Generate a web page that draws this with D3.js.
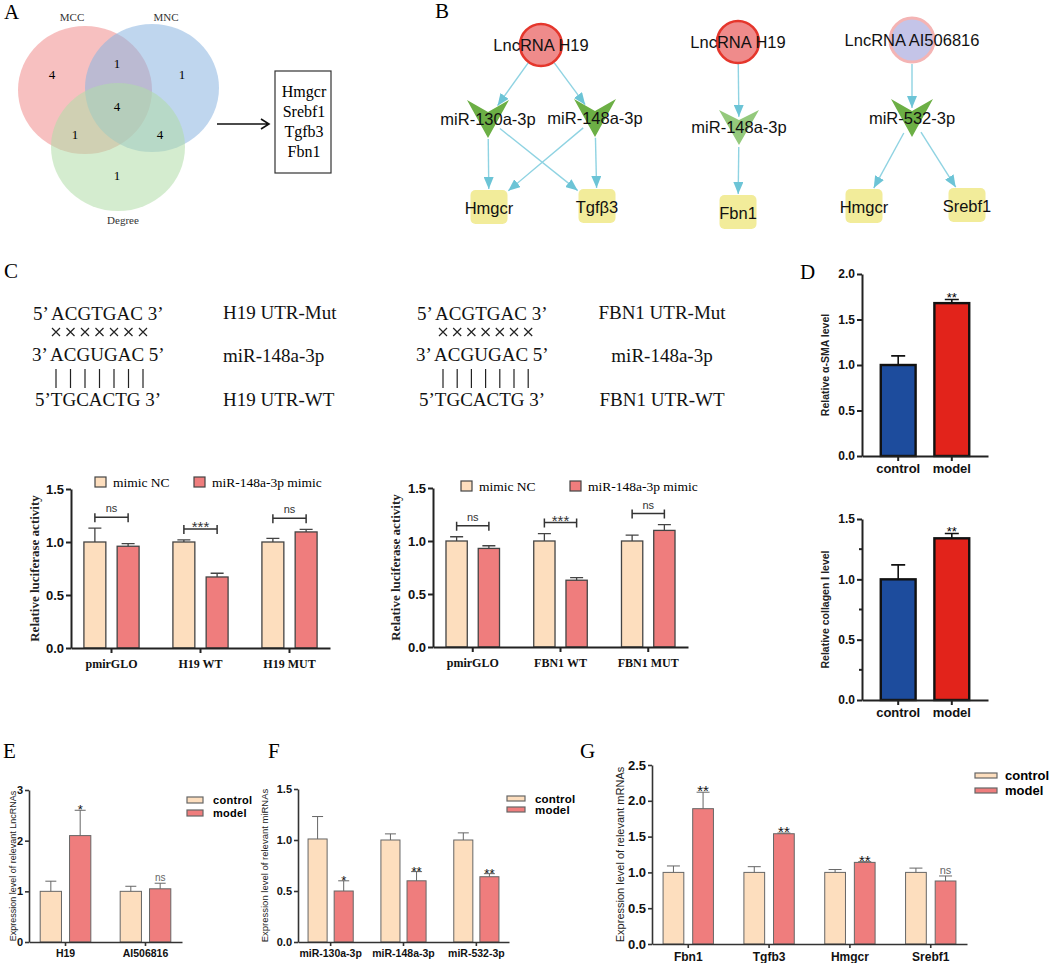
<!DOCTYPE html>
<html>
<head>
<meta charset="utf-8">
<script src="https://cdn.jsdelivr.net/npm/d3@7"></script>
<style>
  body { margin: 0; background: #fff; }
  svg { display: block; }
</style>
</head>
<body>
<div id="chart"></div>
<script>
// ---- data ----
const vennSets = ["MCC", "MNC", "Degree"];
// MCC only, MCC∩MNC, MNC only, all three, MCC∩Degree, MNC∩Degree, Degree only
const vennCounts = [4, 1, 1, 4, 1, 4, 1];
const hubGenes = ["Hmgcr", "Srebf1", "Tgfb3", "Fbn1"];

const netNodes = [
  { id: "h19a", label: "LncRNA H19", type: "lnc" },
  { id: "m130", label: "miR-130a-3p", type: "mir" },
  { id: "m148a", label: "miR-148a-3p", type: "mir" },
  { id: "hmgcrA", label: "Hmgcr", type: "gene" },
  { id: "tgfb3", label: "Tgfβ3", type: "gene" },
  { id: "h19b", label: "LncRNA H19", type: "lnc" },
  { id: "m148b", label: "miR-148a-3p", type: "mirLight" },
  { id: "fbn1", label: "Fbn1", type: "gene" },
  { id: "ai", label: "LncRNA AI506816", type: "lncAlt" },
  { id: "m532", label: "miR-532-3p", type: "mir" },
  { id: "hmgcrB", label: "Hmgcr", type: "gene" },
  { id: "srebf1", label: "Srebf1", type: "gene" }
];
const netLinks = [
  ["h19a", "m130"], ["h19a", "m148a"],
  ["m130", "hmgcrA"], ["m130", "tgfb3"], ["m148a", "hmgcrA"], ["m148a", "tgfb3"],
  ["h19b", "m148b"], ["m148b", "fbn1"],
  ["ai", "m532"], ["m532", "hmgcrB"], ["m532", "srebf1"]
];

const seqMut = "5’ ACGTGAC 3’";
const seqMir = "3’ ACGUGAC 5’";
const seqWt = "5’TGCACTG 3’";
const seqLabelsH19 = ["H19 UTR-Mut", "miR-148a-3p", "H19 UTR-WT"];
const seqLabelsFbn1 = ["FBN1 UTR-Mut", "miR-148a-3p", "FBN1 UTR-WT"];

const lucSeries = ["mimic NC", "miR-148a-3p mimic"];
const lucCatsH19 = ["pmirGLO", "H19 WT", "H19 MUT"];
const lucNcH19 = [1.0, 1.0, 1.0];
const lucNcH19Err = [0.13, 0.02, 0.035];
const lucMimicH19 = [0.96, 0.67, 1.095];
const lucMimicH19Err = [0.025, 0.035, 0.025];
const lucSigH19 = ["ns", "***", "ns"];

const lucCatsFbn1 = ["pmirGLO", "FBN1 WT", "FBN1 MUT"];
const lucNcFbn1 = [1.0, 1.0, 1.0];
const lucNcFbn1Err = [0.04, 0.07, 0.055];
const lucMimicFbn1 = [0.93, 0.63, 1.10];
const lucMimicFbn1Err = [0.025, 0.025, 0.055];
const lucSigFbn1 = ["ns", "***", "ns"];

const groups = ["control", "model"];
const smaValues = [1.0, 1.68];
const smaErr = [0.10, 0.04];
const smaSig = ["", "**"];
const colValues = [1.0, 1.34];
const colErr = [0.12, 0.04];
const colSig = ["", "**"];

const lncGenes = ["H19", "AI506816"];
const lncControl = [1.0, 1.0];
const lncControlErr = [0.2, 0.1];
const lncModel = [2.1, 1.05];
const lncModelErr = [0.5, 0.11];
const lncSig = ["*", "ns"];

const mirGenes = ["miR-130a-3p", "miR-148a-3p", "miR-532-3p"];
const mirControl = [1.01, 1.0, 1.0];
const mirControlErr = [0.22, 0.06, 0.07];
const mirModel = [0.50, 0.60, 0.64];
const mirModelErr = [0.10, 0.09, 0.03];
const mirSig = ["*", "**", "**"];

const mrnaGenes = ["Fbn1", "Tgfb3", "Hmgcr", "Srebf1"];
const mrnaControl = [1.0, 1.0, 1.0, 1.0];
const mrnaControlErr = [0.09, 0.08, 0.04, 0.06];
const mrnaModel = [1.89, 1.54, 1.14, 0.88];
const mrnaModelErr = [0.23, 0.01, 0.01, 0.07];
const mrnaSig = ["**", "**", "**", "ns"];

// ---- setup ----
const SERIF = "'Liberation Serif','Times New Roman',serif";
const SANS = "'Liberation Sans',Arial,sans-serif";
const BEIGE = "#fddebe", SALMON = "#ef7d7d";

const svg = d3.select("#chart").append("svg")
  .attr("width", 1052).attr("height", 963)
  .attr("viewBox", [0, 0, 1052, 963]);

// panel letters
[["A", 4, 19], ["B", 435, 18], ["C", 4, 278], ["D", 800, 279], ["E", 3, 758], ["F", 268, 758], ["G", 580, 758]]
  .forEach(([t, x, y]) => svg.append("text").attr("x", x).attr("y", y)
    .attr("font-family", SERIF).attr("font-size", 21).text(t));

// ---- A: venn ----
const vennShape = [
  { cx: 85, cy: 90, fill: "#f08c8c" },
  { cx: 152, cy: 88, fill: "#8ab4e0" },
  { cx: 118, cy: 147, fill: "#b0dca8" }
];
svg.append("g").selectAll("ellipse").data(vennSets).join("ellipse")
  .attr("cx", (d, i) => vennShape[i].cx).attr("cy", (d, i) => vennShape[i].cy)
  .attr("rx", 67).attr("ry", 64)
  .attr("fill", (d, i) => vennShape[i].fill).attr("fill-opacity", 0.55);

const vennLabelPos = [[72, 21], [166, 21], [123, 224]];
svg.append("g").selectAll("text").data(vennSets).join("text")
  .attr("x", (d, i) => vennLabelPos[i][0]).attr("y", (d, i) => vennLabelPos[i][1])
  .attr("text-anchor", "middle").attr("font-family", SERIF).attr("font-size", 11)
  .attr("fill", "#333").text(d => d);

const vennCountPos = [[52, 79], [117, 68], [182, 79], [117, 111], [75, 139], [160, 139], [117, 180]];
svg.append("g").selectAll("text").data(vennCounts).join("text")
  .attr("x", (d, i) => vennCountPos[i][0]).attr("y", (d, i) => vennCountPos[i][1])
  .attr("text-anchor", "middle").attr("font-family", SERIF).attr("font-size", 13)
  .text(d => d);

svg.append("path").attr("d", "M217,124H269M261,119L269,124L261,129")
  .attr("fill", "none").attr("stroke", "#111").attr("stroke-width", 1.6);
svg.append("rect").attr("x", 275).attr("y", 71).attr("width", 56).attr("height", 102)
  .attr("fill", "none").attr("stroke", "#333").attr("stroke-width", 1.2);
svg.append("g").selectAll("text").data(hubGenes).join("text")
  .attr("x", 304).attr("y", (d, i) => 97 + i * 20)
  .attr("text-anchor", "middle").attr("font-family", SERIF).attr("font-size", 16)
  .text(d => d);

// ---- B: networks ----
const nodePos = {
  h19a: [541, 45], m130: [488, 119], m148a: [595, 118], hmgcrA: [489, 207], tgfb3: [597, 206],
  h19b: [738, 42], m148b: [739, 127], fbn1: [738, 212],
  ai: [912, 40], m532: [912, 118], hmgcrB: [864, 206], srebf1: [967, 205]
};
const nodeById = new Map(netNodes.map(n => [n.id, n]));
const geneW = 37, geneH = 34;

function edgeOffset(n, ux, uy, asSource) {
  if (n.type === "lnc" || n.type === "lncAlt") return n.type === "lncAlt" ? 24 : 22;
  if (n.type === "mir" || n.type === "mirLight") {
    return asSource ? 20 - 6 * Math.abs(ux) : 10 + 11 * Math.abs(ux);
  }
  const t = Math.min((geneW / 2) / Math.abs(ux || 1e-6), (geneH / 2) / Math.abs(uy || 1e-6));
  return t + 1;
}

const defs = svg.append("defs");
defs.append("marker").attr("id", "arr").attr("viewBox", "0 0 12 10")
  .attr("refX", 12).attr("refY", 5).attr("markerWidth", 12).attr("markerHeight", 10)
  .attr("markerUnits", "userSpaceOnUse").attr("orient", "auto")
  .append("path").attr("d", "M0,0L12,5L0,10Z").attr("fill", "#6cc4d6");

svg.append("g").selectAll("line").data(netLinks).join("line")
  .each(function ([s, t]) {
    const [x1, y1] = nodePos[s], [x2, y2] = nodePos[t];
    const len = Math.hypot(x2 - x1, y2 - y1), ux = (x2 - x1) / len, uy = (y2 - y1) / len;
    const o1 = edgeOffset(nodeById.get(s), ux, uy, true);
    const o2 = edgeOffset(nodeById.get(t), ux, uy, false);
    d3.select(this)
      .attr("x1", x1 + ux * o1).attr("y1", y1 + uy * o1)
      .attr("x2", x2 - ux * o2).attr("y2", y2 - uy * o2);
  })
  .attr("stroke", "#8fd3e2").attr("stroke-width", 1.4).attr("marker-end", "url(#arr)");

const nodeG = svg.append("g").selectAll("g").data(netNodes).join("g")
  .attr("transform", d => `translate(${nodePos[d.id][0]},${nodePos[d.id][1]})`);

nodeG.filter(d => d.type === "lnc").append("circle").attr("r", 21)
  .attr("fill", "#ef8b8b").attr("stroke", "#e5362c").attr("stroke-width", 2.6);
nodeG.filter(d => d.type === "lncAlt").append("circle").attr("r", 22)
  .attr("fill", "#c4c4e8").attr("stroke", "#f4b4b4").attr("stroke-width", 3);
nodeG.filter(d => d.type === "mir" || d.type === "mirLight").append("path")
  .attr("d", d => d.type === "mir" ? "M-21,-19L0,-7L21,-19L0,19Z" : "M-20,-17L0,-7L20,-17L0,18Z")
  .attr("fill", d => d.type === "mir" ? "#6caf45" : "#94c97c");
nodeG.filter(d => d.type === "gene").append("rect")
  .attr("x", -geneW / 2).attr("y", -geneH / 2).attr("width", geneW).attr("height", geneH)
  .attr("rx", 5).attr("fill", "#f2ec9a");

nodeG.append("text")
  .attr("text-anchor", "middle")
  .attr("y", d => d.type === "gene" ? 7 : 6)
  .attr("font-family", SANS).attr("font-size", 16.5).attr("fill", "#111")
  .text(d => d.label);

// ---- C: sequences ----
function drawSeq(x0, markX0, markStep, rightX, anchor, labels) {
  const g = svg.append("g").attr("font-family", SERIF).attr("font-size", 19).attr("fill", "#111");
  g.append("text").attr("x", x0).attr("y", 320).text(seqMut);
  g.append("text").attr("x", x0 - 1).attr("y", 361).text(seqMir);
  g.append("text").attr("x", x0 + 2).attr("y", 406).text(seqWt);
  const marks = d3.range(seqMut.replace(/[^A-Z]/g, "").length);
  // crosses for mutated pairs
  g.append("g").selectAll("path").data(marks).join("path")
    .attr("d", i => {
      const cx = markX0 + i * markStep, cy = 332, r = 4;
      return `M${cx - r},${cy - r}L${cx + r},${cy + r}M${cx + r},${cy - r}L${cx - r},${cy + r}`;
    })
    .attr("stroke", "#222").attr("stroke-width", 1.2).attr("fill", "none");
  // bars for matched pairs
  g.append("g").selectAll("line").data(marks).join("line")
    .attr("x1", i => markX0 + i * markStep).attr("x2", i => markX0 + i * markStep)
    .attr("y1", 369).attr("y2", 388).attr("stroke", "#222").attr("stroke-width", 1.2);
  g.append("g").selectAll("text").data(labels).join("text")
    .attr("x", rightX).attr("y", (d, i) => [319, 362, 406][i])
    .attr("text-anchor", anchor).text(d => d);
}
drawSeq(33, 56, 14.5, 223, "start", seqLabelsH19);
drawSeq(417, 443, 14.2, 662, "middle", seqLabelsFbn1);

// ---- bar chart helpers ----
function styleAxis(a, color, lw, font, fs, bold) {
  a.select(".domain").attr("stroke", color).attr("stroke-width", lw);
  a.selectAll(".tick line").attr("stroke", color).attr("stroke-width", lw);
  a.selectAll(".tick text").attr("font-family", font).attr("font-size", fs)
    .attr("font-weight", bold ? "bold" : "normal").attr("fill", "#111");
}

function groupedBars(c) {
  const g = svg.append("g");
  const x0 = d3.scaleBand().domain(c.cats).range(c.xr).paddingInner(c.pi).paddingOuter(c.po);
  const x1 = d3.scaleBand().domain(c.series.map(s => s.name)).range([0, x0.bandwidth()]).paddingInner(c.pin);
  const y = d3.scaleLinear().domain(c.domain).range(c.yr);
  const bw = x1.bandwidth();

  c.series.forEach(s => {
    const sg = g.append("g");
    sg.selectAll("rect").data(c.cats).join("rect")
      .attr("x", d => x0(d) + x1(s.name)).attr("y", (d, i) => y(s.values[i]))
      .attr("width", bw).attr("height", (d, i) => y(0) - y(s.values[i]))
      .attr("fill", s.fill).attr("stroke", c.barStroke).attr("stroke-width", c.barLw);
    sg.selectAll("path").data(c.cats).join("path")
      .attr("d", (d, i) => {
        const cx = x0(d) + x1(s.name) + bw / 2, yt = y(s.values[i]), ye = y(s.values[i] + s.errs[i]);
        return `M${cx},${yt}V${ye}M${cx - c.cap / 2},${ye}H${cx + c.cap / 2}`;
      })
      .attr("fill", "none").attr("stroke", c.barStroke).attr("stroke-width", c.barLw);
    if (s.sig) {
      sg.selectAll("text").data(c.cats).join("text")
        .attr("x", d => x0(d) + x1(s.name) + bw / 2)
        .attr("y", (d, i) => y(s.values[i] + s.errs[i]) + (s.sig[i] === "ns" ? -2 : c.starDy))
        .attr("text-anchor", "middle").attr("font-family", SANS)
        .attr("font-size", (d, i) => s.sig[i] === "ns" ? c.nsFs : c.starFs)
        .attr("fill", (d, i) => s.sig[i] === "ns" ? "#666" : "#111")
        .text((d, i) => s.sig[i]);
    }
  });

  if (c.brackets) {
    const bg = g.append("g");
    c.cats.forEach((d, i) => {
      const top = d3.max(c.series, s => s.values[i] + s.errs[i]);
      const by = y(top) - 11;
      const xa = x0(d) + x1(c.series[0].name) + bw / 2;
      const xb = x0(d) + x1(c.series[1].name) + bw / 2;
      bg.append("path").attr("d", `M${xa},${by - 4}V${by + 5}M${xa},${by}H${xb}M${xb},${by - 4}V${by + 5}`)
        .attr("fill", "none").attr("stroke", "#333").attr("stroke-width", 1.5);
      const star = c.brackets[i] !== "ns";
      bg.append("text").attr("x", (xa + xb) / 2).attr("y", star ? by + 3 : by - 5)
        .attr("text-anchor", "middle").attr("font-family", SANS)
        .attr("font-size", star ? 15 : 11).attr("fill", "#333").text(c.brackets[i]);
    });
  }

  const ya = g.append("g").attr("transform", `translate(${c.xr[0]},0)`)
    .call(d3.axisLeft(y).tickValues(c.ticks).tickFormat(c.fmt).tickSize(c.tick).tickPadding(2).tickSizeOuter(0));
  styleAxis(ya, c.axisColor, c.axisLw, SANS, c.tickFs, true);
  const xa = g.append("g").attr("transform", `translate(0,${c.yr[0]})`)
    .call(d3.axisBottom(x0).tickSize(c.tick).tickPadding(c.catPad).tickSizeOuter(0));
  styleAxis(xa, c.axisColor, c.axisLw, c.catFont, c.catFs, true);

  g.append("text")
    .attr("transform", `translate(${c.ylabX},${(c.yr[0] + c.yr[1]) / 2}) rotate(-90)`)
    .attr("text-anchor", "middle").attr("font-family", c.ylabFont).attr("font-size", c.ylabFs)
    .attr("font-weight", c.ylabBold ? "bold" : "normal").attr("fill", "#222").text(c.ylab);

  if (c.legend) {
    const lg = g.append("g");
    c.series.forEach((s, i) => {
      const [lx, ly] = c.legend.pos[i];
      lg.append("rect").attr("x", lx).attr("y", ly).attr("width", c.legend.w).attr("height", c.legend.h)
        .attr("fill", s.fill).attr("stroke", c.barStroke).attr("stroke-width", 1.2);
      lg.append("text").attr("x", lx + c.legend.w + c.legend.gap).attr("y", ly + c.legend.h / 2 + c.legend.fs * 0.35)
        .attr("font-family", c.legend.font).attr("font-size", c.legend.fs)
        .attr("font-weight", c.legend.bold ? "bold" : "normal")
        .attr("letter-spacing", c.legend.ls || 0).text(s.name);
    });
  }
  return g;
}

const fmt1 = d3.format(".1f");

// C luciferase charts
const lucCommon = {
  domain: [0, 1.5], ticks: [0, 0.5, 1.0, 1.5], fmt: fmt1, tick: 5, tickFs: 13,
  po: 0.145, pi: 0.38, pin: 0.34, barStroke: "#444", barLw: 1.3, cap: 13,
  axisColor: "#222", axisLw: 2, catFont: SERIF, catFs: 12, catPad: 6,
  ylabFont: SERIF, ylabFs: 13, ylabBold: true, ylab: "Relative luciferase activity"
};
groupedBars(Object.assign({}, lucCommon, {
  cats: lucCatsH19, xr: [71, 330], yr: [648, 489], ylabX: 39,
  series: [
    { name: lucSeries[0], values: lucNcH19, errs: lucNcH19Err, fill: BEIGE },
    { name: lucSeries[1], values: lucMimicH19, errs: lucMimicH19Err, fill: SALMON }
  ],
  brackets: lucSigH19,
  legend: { pos: [[95, 477], [194, 477]], w: 11, h: 10, gap: 7, fs: 13.5, font: SERIF }
}));
groupedBars(Object.assign({}, lucCommon, {
  cats: lucCatsFbn1, xr: [433, 688], yr: [647, 488], po: 0.148, pi: 0.39, ylabX: 400,
  series: [
    { name: lucSeries[0], values: lucNcFbn1, errs: lucNcFbn1Err, fill: BEIGE },
    { name: lucSeries[1], values: lucMimicFbn1, errs: lucMimicFbn1Err, fill: SALMON }
  ],
  brackets: lucSigFbn1,
  legend: { pos: [[461, 481], [570, 481]], w: 11, h: 10, gap: 7, fs: 13.5, font: SERIF }
}));

// D single bars
function singleBars(c) {
  const g = svg.append("g");
  const x = d3.scaleBand().domain(groups).range([862, 988]).paddingInner(0.35).paddingOuter(0.35);
  const y = d3.scaleLinear().domain(c.domain).range(c.yr);
  const fills = ["#1d4c9d", "#e2231b"];
  g.selectAll("rect").data(groups).join("rect")
    .attr("x", d => x(d)).attr("y", (d, i) => y(c.values[i]))
    .attr("width", x.bandwidth()).attr("height", (d, i) => y(0) - y(c.values[i]))
    .attr("fill", (d, i) => fills[i]).attr("stroke", "#111").attr("stroke-width", 2.4);
  g.selectAll("path.err").data(groups).join("path")
    .attr("d", (d, i) => {
      const cx = x(d) + x.bandwidth() / 2, yt = y(c.values[i]), ye = y(c.values[i] + c.errs[i]);
      return `M${cx},${yt}V${ye}M${cx - 7},${ye}H${cx + 7}`;
    })
    .attr("fill", "none").attr("stroke", "#111").attr("stroke-width", 1.6);
  g.selectAll("text.sig").data(groups).join("text")
    .attr("x", d => x(d) + x.bandwidth() / 2).attr("y", (d, i) => y(c.values[i] + c.errs[i]) + 3)
    .attr("text-anchor", "middle").attr("font-family", SANS).attr("font-size", 13)
    .text((d, i) => c.sig[i]);
  const ya = g.append("g").attr("transform", "translate(862,0)")
    .call(d3.axisLeft(y).tickValues(c.ticks).tickFormat(fmt1).tickSize(5).tickPadding(2).tickSizeOuter(0));
  styleAxis(ya, "#222", 2, SANS, 12, true);
  if (c.minor) {
    g.append("g").selectAll("line").data(c.minor).join("line")
      .attr("x1", 859).attr("x2", 862).attr("y1", d => y(d)).attr("y2", d => y(d))
      .attr("stroke", "#222").attr("stroke-width", 2);
  }
  const xa = g.append("g").attr("transform", `translate(0,${c.yr[0]})`)
    .call(d3.axisBottom(x).tickSize(5).tickPadding(3).tickSizeOuter(0));
  styleAxis(xa, "#222", 2, SANS, 13, true);
  g.append("text")
    .attr("transform", `translate(829,${(c.yr[0] + c.yr[1]) / 2}) rotate(-90)`)
    .attr("text-anchor", "middle").attr("font-family", SANS).attr("font-size", 10.5)
    .attr("font-weight", "bold").attr("fill", "#222").text(c.ylab);
}
singleBars({ values: smaValues, errs: smaErr, sig: smaSig, domain: [0, 2], yr: [456, 274],
  ticks: [0, 0.5, 1.0, 1.5, 2.0], ylab: "Relative α-SMA level" });
singleBars({ values: colValues, errs: colErr, sig: colSig, domain: [0, 1.5], yr: [700, 519],
  ticks: [0, 0.5, 1.0, 1.5], minor: [0.25, 0.75, 1.25], ylab: "Relative collagen Ⅰ level" });

// E, F, G expression charts
const exprCommon = {
  tick: 4, barStroke: "#666", barLw: 1, axisColor: "#333", axisLw: 1.6,
  catFont: SANS, catPad: 4, ylabFont: SANS, ylabBold: false, starDy: 4, starFs: 13, nsFs: 10
};
groupedBars(Object.assign({}, exprCommon, {
  cats: lncGenes, xr: [29, 182], yr: [942, 790], domain: [0, 3], ticks: [0, 1, 2, 3], fmt: d3.format("d"),
  po: 0.14, pi: 0.367, pin: 0.275, cap: 11, tickFs: 11, catFs: 10.5,
  series: [
    { name: groups[0], values: lncControl, errs: lncControlErr, fill: BEIGE },
    { name: groups[1], values: lncModel, errs: lncModelErr, fill: SALMON, sig: lncSig }
  ],
  ylab: "Expression level of relevant LncRNAs", ylabX: 16, ylabFs: 9,
  legend: { pos: [[187, 797], [187, 810]], w: 16, h: 6, gap: 10, fs: 11, font: SANS, bold: true, ls: 0.3 }
}));
groupedBars(Object.assign({}, exprCommon, {
  cats: mirGenes, xr: [298, 509], yr: [942, 789], domain: [0, 1.5], ticks: [0, 0.5, 1.0, 1.5], fmt: fmt1,
  po: 0.138, pi: 0.38, pin: 0.27, cap: 11, tickFs: 11, catFs: 10.5,
  series: [
    { name: groups[0], values: mirControl, errs: mirControlErr, fill: BEIGE },
    { name: groups[1], values: mirModel, errs: mirModelErr, fill: SALMON, sig: mirSig }
  ],
  ylab: "Expression level of relevant miRNAs", ylabX: 268, ylabFs: 9.5,
  legend: { pos: [[507, 796], [507, 807]], w: 18, h: 5, gap: 10, fs: 11.5, font: SANS, bold: true, ls: 0.2 }
}));
groupedBars(Object.assign({}, exprCommon, {
  cats: mrnaGenes, xr: [652, 967], yr: [944, 765], domain: [0, 2.5], ticks: [0, 0.5, 1.0, 1.5, 2.0, 2.5], fmt: fmt1,
  po: 0.137, pi: 0.377, pin: 0.3, cap: 13, tickFs: 13, catFs: 12, starFs: 15, nsFs: 11,
  series: [
    { name: groups[0], values: mrnaControl, errs: mrnaControlErr, fill: BEIGE },
    { name: groups[1], values: mrnaModel, errs: mrnaModelErr, fill: SALMON, sig: mrnaSig }
  ],
  ylab: "Expression level of relevant mRNAs", ylabX: 624, ylabFs: 11,
  legend: { pos: [[975, 773], [975, 788]], w: 22, h: 5, gap: 8, fs: 13, font: SANS, bold: true, ls: 0 }
}));
</script>
</body>
</html>
